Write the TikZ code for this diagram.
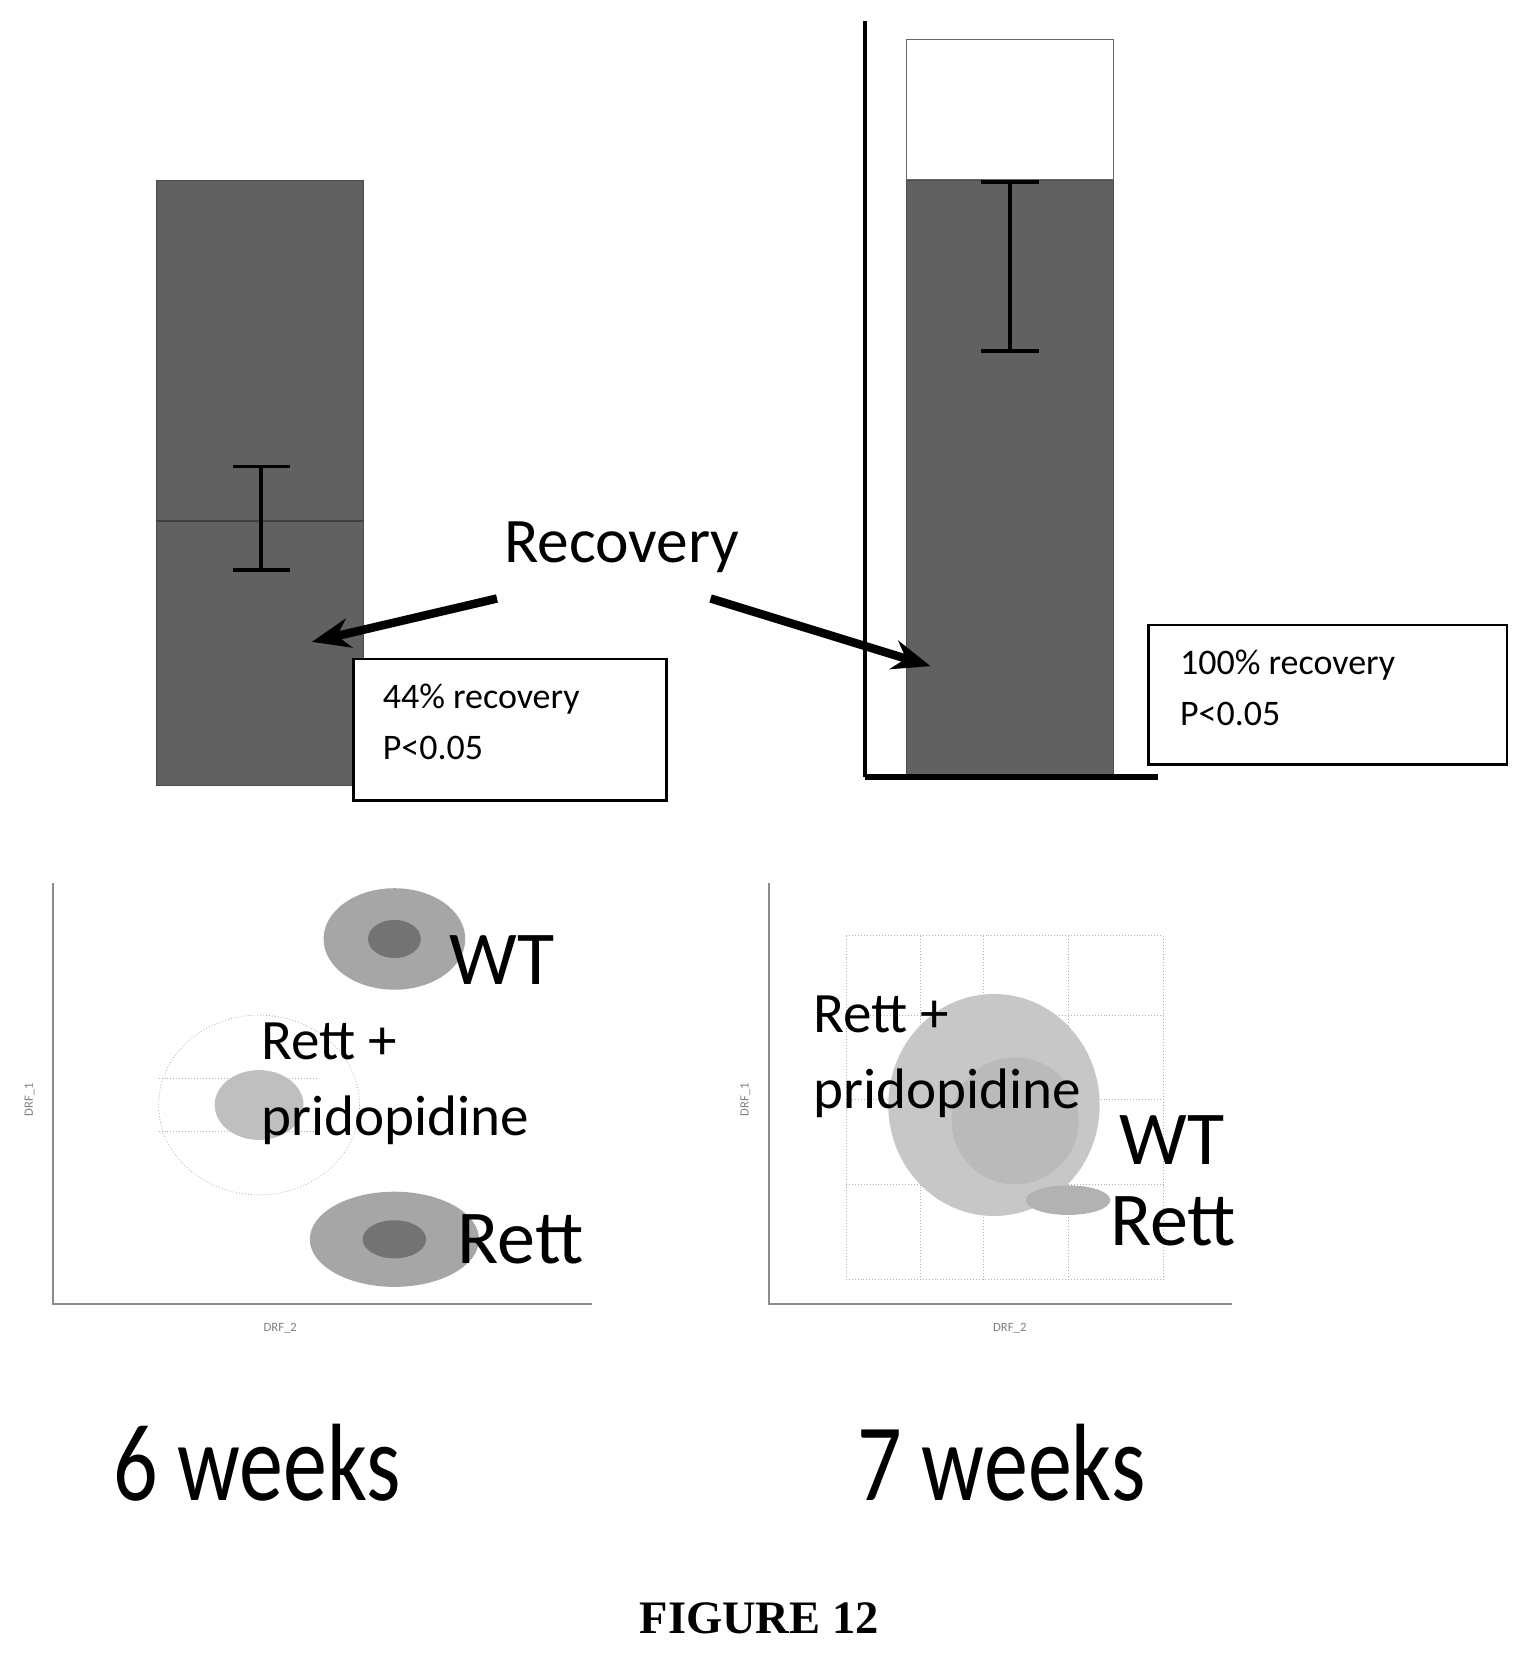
\documentclass[tikz,border=0pt]{standalone}
\usepackage{fontspec}
\usetikzlibrary{arrows.meta}
\setmainfont{Carlito}
\newfontfamily\serifb{Liberation Serif}
\begin{document}
\begin{tikzpicture}[x=0.5pt,y=-0.5pt,
  bar/.style={fill=black!62,draw=black!70},
  box/.style={draw=black,line width=1.2pt,fill=white},
  err/.style={line width=1.6pt},
  arr/.style={line width=4pt,-{Stealth[length=18pt,width=14pt]}},
  lab/.style={align=left},
  big/.style={font=\fontsize{36}{40}\selectfont},
  axis/.style={draw=black!45,line width=1pt},
  tiny/.style={font=\fontsize{6}{7}\selectfont,text=black!50}]
\useasboundingbox (0,0) rectangle (1445,1568);
% left bar
\node[bar,minimum width=97.5pt,minimum height=286pt,inner sep=0pt,anchor=north west] (barL) at (148,170) {};
\draw[black!75,line width=1pt] (148,493) -- (343,493);
\draw[err] (247,441) -- (247,539) (220,441) -- (274,441) (220,539) -- (274,539);
% right bar
\node[draw=black!60,fill=white,minimum width=98pt,minimum height=66pt,inner sep=0pt,anchor=north west] (wtR) at (857,37) {};
\node[bar,minimum width=98pt,minimum height=282pt,inner sep=0pt,anchor=north west] (barR) at (857,170) {};
\draw[err] (955,172) -- (955,332) (928,172) -- (983,172) (928,332) -- (983,332);
\draw[line width=1.5pt] (818,20) -- (818,735);
\draw[line width=3pt] (818,735) -- (1095,735);
% recovery
\node[font=\fontsize{30}{36}\selectfont] (rec) at (588,518) {Recovery};
\coordinate (tL) at (295,607);
\coordinate (tR) at (880,630);
\draw[arr] (470,566) -- (tL);
\draw[arr] (672,566) -- (tR);
\node[box,minimum width=148pt,minimum height=67pt,anchor=north west] (b1) at (333,622) {};
\node[lab,anchor=north west,font=\fontsize{17}{24}\selectfont] (t1) at (355,640) {44\% recovery\\P<0.05};
\node[box,minimum width=169.5pt,minimum height=66pt,anchor=north west] (b2) at (1085,590) {};
\node[lab,anchor=north west,font=\fontsize{17}{24}\selectfont] (t2) at (1109,608) {100\% recovery\\P<0.05};
% bottom left plot
\draw[axis] (50,835) -- (50,1233) -- (560,1233);
\node[tiny,rotate=90] (y1) at (28,1040) {DRF\_1};
\node[tiny] (x1) at (265,1256) {DRF\_2};
\draw[black!30,densely dotted] (245,1045) ellipse (95 and 85);
\draw[black!30,densely dotted] (150,1020) -- (300,1020) (150,1070) -- (300,1070);
\fill[black!25] (245,1045) ellipse (42 and 33);
\fill[black!35] (373,888) ellipse (67 and 48);
\fill[black!55] (373,888) ellipse (25 and 18);
\fill[black!35] (373,1172) ellipse (80 and 45);
\fill[black!55] (373,1172) ellipse (30 and 18);
\node[big,anchor=west] (wt1) at (418,908) {WT};
\node[lab,anchor=north west,font=\fontsize{27}{36}\selectfont] (rp1) at (240,960) {Rett +\\pridopidine};
\node[big,anchor=west] (r1) at (426,1172) {Rett};
% bottom right plot
\draw[axis] (727,835) -- (727,1233) -- (1165,1233);
\node[tiny,rotate=90] (y2) at (705,1040) {DRF\_1};
\node[tiny] (x2) at (955,1256) {DRF\_2};
\draw[black!30,densely dotted] (800,885) rectangle (1100,1210);
\draw[black!30,densely dotted] (870,885) -- (870,1210) (930,885) -- (930,1210) (1010,885) -- (1010,1210)
  (800,960) -- (1100,960) (800,1040) -- (1100,1040) (800,1120) -- (1100,1120);
\fill[black!22] (940,1045) ellipse (100 and 105);
\fill[black!30] (1010,1135) ellipse (40 and 14);
\fill[black!27] (960,1060) ellipse (60 and 60);
\node[lab,anchor=north west,font=\fontsize{27}{36}\selectfont] (rp2) at (762,935) {Rett +\\pridopidine};
\node[big,anchor=west] (wt2) at (1052,1078) {WT};
\node[big,anchor=west] (r2) at (1043,1155) {Rett};
% titles
\node[font=\fontsize{52}{56}\selectfont,xscale=0.8] (w6) at (243,1383) {6 weeks};
\node[font=\fontsize{52}{56}\selectfont,xscale=0.8] (w7) at (947,1383) {7 weeks};
\node[font=\serifb\bfseries\fontsize{22}{26}\selectfont] (fig) at (718,1530) {FIGURE 12};
\end{tikzpicture}
\end{document}
